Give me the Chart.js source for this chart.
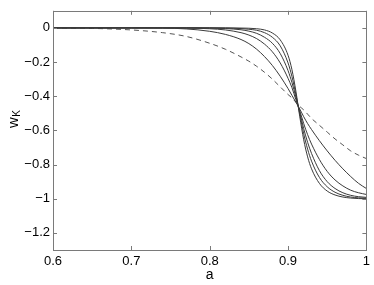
<!DOCTYPE html>
<html lang="en">

<head>
    <meta charset="UTF-8">
    <title>w_K vs a</title>
    <script src="https://cdn.jsdelivr.net/npm/chart.js@4.4.0/dist/chart.umd.min.js"></script>
    <style>
        body {
            margin: 0;
            background: #fff;
        }

        #box {
            width: 374px;
            height: 285px;
        }
    </style>
</head>

<body>

    <div id="box"><canvas id="wkChart"></canvas></div>

    <script>
        // valores
        const aValues = [0.60, 0.65, 0.70, 0.74, 0.77, 0.80, 0.82, 0.84, 0.85, 0.86, 0.87, 0.88, 0.89, 0.90,
            0.905, 0.91, 0.915, 0.92, 0.925, 0.93, 0.94, 0.95, 0.96, 0.97, 0.98, 0.99, 1.00];

        const curveA = [0, 0, 0, -0.001, -0.006, -0.02, -0.038, -0.068, -0.092, -0.125, -0.168, -0.22, -0.283, -0.355,
            -0.395, -0.435, -0.475, -0.52, -0.56, -0.595, -0.66, -0.72, -0.775, -0.825, -0.87, -0.91, -0.94];
        const curveB = [0, 0, 0, 0, -0.001, -0.005, -0.012, -0.028, -0.042, -0.063, -0.095, -0.14, -0.205, -0.295,
            -0.35, -0.42, -0.485, -0.56, -0.625, -0.68, -0.77, -0.84, -0.89, -0.925, -0.95, -0.965, -0.975];
        const curveC = [0, 0, 0, 0, 0, -0.001, -0.004, -0.011, -0.019, -0.032, -0.055, -0.09, -0.15, -0.25,
            -0.32, -0.405, -0.495, -0.59, -0.67, -0.735, -0.835, -0.9, -0.94, -0.965, -0.98, -0.988, -0.992];
        const curveD = [0, 0, 0, 0, 0, 0, -0.001, -0.004, -0.008, -0.014, -0.028, -0.055, -0.105, -0.205,
            -0.285, -0.39, -0.505, -0.62, -0.71, -0.78, -0.875, -0.93, -0.962, -0.98, -0.99, -0.995, -0.997];
        const curveE = [0, 0, 0, 0, 0, 0, 0, -0.001, -0.002, -0.005, -0.012, -0.03, -0.07, -0.16,
            -0.245, -0.37, -0.52, -0.655, -0.755, -0.825, -0.91, -0.955, -0.978, -0.99, -0.996, -0.999, -1.0];
        const curveDashed = [0, -0.003, -0.012, -0.028, -0.05, -0.09, -0.125, -0.17, -0.195, -0.225, -0.26, -0.3, -0.345, -0.39,
            -0.41, -0.435, -0.46, -0.48, -0.505, -0.53, -0.57, -0.61, -0.65, -0.685, -0.72, -0.745, -0.765];

        const xTicks = [0.6, 0.7, 0.8, 0.9, 1];
        const yTicks = [0, -0.2, -0.4, -0.6, -0.8, -1, -1.2];

        const fontName = "'Liberation Sans', Arial, sans-serif";

        function pontos(ys) {
            return aValues.map((a, i) => ({ x: a, y: ys[i] }));
        }

        function serie(ys, dashed) {
            return {
                data: pontos(ys),
                borderColor: dashed ? '#555' : '#3a3a3a',
                borderWidth: 1,
                borderDash: dashed ? [5, 4] : [],
                pointRadius: 0,
                cubicInterpolationMode: 'monotone',
                fill: false
            };
        }

        function fmt(v) {
            let s = String(Math.round(v * 10) / 10);
            return s.replace('-', '\u2212');
        }

        // moldura, ticks para dentro e rótulo w_K
        const framePlugin = {
            id: 'frame',
            afterDraw(chart) {
                const ctx = chart.ctx;
                const area = chart.chartArea;
                const xs = chart.scales.x;
                const ys = chart.scales.y;
                ctx.save();
                ctx.strokeStyle = '#7a7a7a';
                ctx.lineWidth = 1;
                ctx.strokeRect(Math.round(area.left) + 0.5, Math.round(area.top) + 0.5,
                    Math.round(area.right - area.left), Math.round(area.bottom - area.top));
                ctx.beginPath();
                for (let v of xTicks) {
                    let px = Math.round(xs.getPixelForValue(v)) + 0.5;
                    ctx.moveTo(px, area.bottom);
                    ctx.lineTo(px, area.bottom - 4);
                    ctx.moveTo(px, area.top);
                    ctx.lineTo(px, area.top + 4);
                }
                for (let v of yTicks) {
                    let py = Math.round(ys.getPixelForValue(v)) + 0.5;
                    ctx.moveTo(area.left, py);
                    ctx.lineTo(area.left + 4, py);
                    ctx.moveTo(area.right, py);
                    ctx.lineTo(area.right - 4, py);
                }
                ctx.stroke();

                // rótulo do eixo y com subscrito
                ctx.fillStyle = '#000';
                ctx.translate(18, 128);
                ctx.rotate(-Math.PI / 2);
                ctx.textBaseline = 'alphabetic';
                ctx.textAlign = 'left';
                ctx.font = '15px ' + fontName;
                ctx.fillText('w', 0, 0);
                let wWidth = ctx.measureText('w').width;
                ctx.font = '10px ' + fontName;
                ctx.fillText('K', wWidth + 0.5, 2);
                ctx.restore();
            }
        };

        let ctx = document.getElementById('wkChart').getContext('2d');

        let chart = new Chart(ctx, {
            type: 'line',
            data: {
                datasets: [
                    serie(curveA, false),
                    serie(curveB, false),
                    serie(curveC, false),
                    serie(curveD, false),
                    serie(curveE, false),
                    serie(curveDashed, true)
                ]
            },
            options: {
                responsive: true,
                maintainAspectRatio: false,
                animation: false,
                layout: {
                    padding: { top: 3, right: 6, left: 0, bottom: 0 }
                },
                plugins: {
                    legend: { display: false },
                    tooltip: { enabled: false }
                },
                scales: {
                    x: {
                        type: 'linear',
                        min: 0.6,
                        max: 1,
                        grid: { display: false, drawTicks: false },
                        border: { display: false },
                        afterBuildTicks: (scale) => {
                            scale.ticks = xTicks.map(v => ({ value: v }));
                        },
                        afterFit: (scale) => {
                            scale.height = 35;
                        },
                        ticks: {
                            color: '#000',
                            padding: 4,
                            maxRotation: 0,
                            font: { family: fontName, size: 13 },
                            callback: (v) => fmt(v)
                        },
                        title: {
                            display: true,
                            text: 'a',
                            color: '#000',
                            font: { family: fontName, size: 14 },
                            padding: { top: 0, bottom: 1 }
                        }
                    },
                    y: {
                        type: 'linear',
                        min: -1.3,
                        max: 0.1,
                        grid: { display: false, drawTicks: false },
                        border: { display: false },
                        afterBuildTicks: (scale) => {
                            scale.ticks = yTicks.map(v => ({ value: v }));
                        },
                        afterFit: (scale) => {
                            scale.width = 53;
                        },
                        ticks: {
                            color: '#000',
                            padding: 3,
                            font: { family: fontName, size: 13 },
                            callback: (v) => fmt(v)
                        }
                    }
                }
            },
            plugins: [framePlugin]
        });
    </script>

</body>

</html>
